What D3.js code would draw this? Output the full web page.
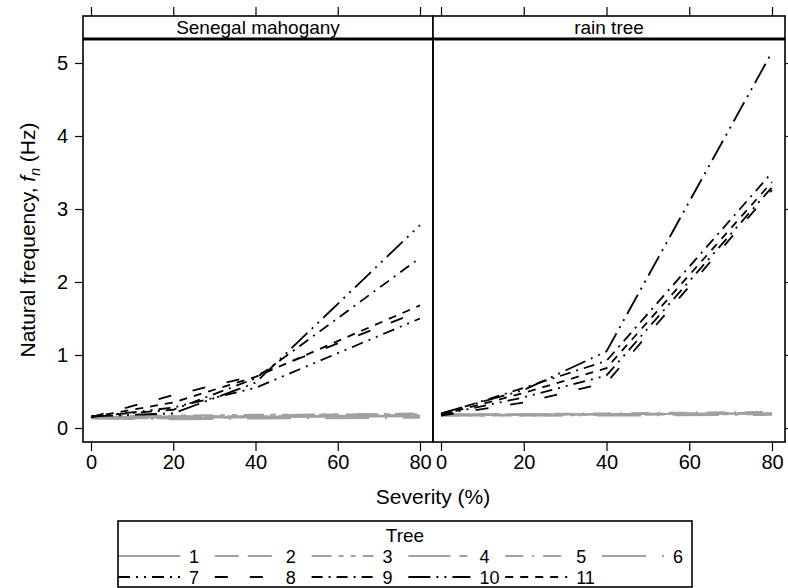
<!DOCTYPE html>
<html>
<head>
<meta charset="utf-8">
<script src="https://cdn.jsdelivr.net/npm/d3@7"></script>
<style>
  body { margin: 0; background: #fff; }
  text { font-family: "Liberation Sans", Arial, sans-serif; fill: #000; }
</style>
</head>
<body>
<div id="chart"></div>
<script>
// severity levels on the x axis
const severity = [0, 20, 40, 80]
const treeNames = ["1", "2", "3", "4", "5", "6", "7", "8", "9", "10", "11"]
const panelNames = ["Senegal mahogany", "rain tree"]
const xTicks = [0, 20, 40, 60, 80]
const yTicks = [0, 1, 2, 3, 4, 5]

// natural frequency (Hz) per tree, Senegal mahogany
const mahoganyTree1 = [0.15, 0.14, 0.15, 0.16]
const mahoganyTree2 = [0.14, 0.13, 0.15, 0.18]
const mahoganyTree3 = [0.16, 0.17, 0.18, 0.19]
const mahoganyTree4 = [0.15, 0.16, 0.16, 0.17]
const mahoganyTree5 = [0.16, 0.15, 0.17, 0.20]
const mahoganyTree6 = [0.13, 0.12, 0.13, 0.14]
const mahoganyTree7 = [0.15, 0.28, 0.55, 1.50]
const mahoganyTree8 = [0.15, 0.45, 0.72, 1.60]
const mahoganyTree9 = [0.16, 0.25, 0.68, 2.33]
const mahoganyTree10 = [0.16, 0.20, 0.62, 2.78]
const mahoganyTree11 = [0.15, 0.35, 0.70, 1.68]

// natural frequency (Hz) per tree, rain tree
const rainTree1 = [0.18, 0.18, 0.19, 0.20]
const rainTree2 = [0.19, 0.18, 0.19, 0.21]
const rainTree3 = [0.17, 0.17, 0.18, 0.19]
const rainTree4 = [0.18, 0.19, 0.19, 0.20]
const rainTree5 = [0.19, 0.19, 0.20, 0.22]
const rainTree6 = [0.17, 0.17, 0.17, 0.18]
const rainTree7 = [0.18, 0.42, 0.72, 3.30]
const rainTree8 = [0.17, 0.35, 0.62, 3.26]
const rainTree9 = [0.19, 0.55, 0.92, 3.50]
const rainTree10 = [0.20, 0.52, 1.05, 5.15]
const rainTree11 = [0.18, 0.48, 0.82, 3.37]

const mahoganySeries = [mahoganyTree1, mahoganyTree2, mahoganyTree3, mahoganyTree4, mahoganyTree5, mahoganyTree6,
  mahoganyTree7, mahoganyTree8, mahoganyTree9, mahoganyTree10, mahoganyTree11]
const rainSeries = [rainTree1, rainTree2, rainTree3, rainTree4, rainTree5, rainTree6,
  rainTree7, rainTree8, rainTree9, rainTree10, rainTree11]

// line styles per tree (grey for 1-6, black for 7-11)
const treeColor = i => i < 6 ? "#a0a0a0" : "#000"
const treeWidth = i => i < 6 ? 2 : 1.8
const treeDash = ["", "24,9", "20,7,5,7,5,7", "42,9,8,9", "18,9,2,9", "44,16,2,16",
  "12,6,2,6,2,6", "13,22", "11,6,2,6", "22,6,2,6,2,6", "8,7"]

const width = 788, height = 588
const panelTop = 16, stripBottom = 39, panelBottom = 442
const panels = [
  { name: panelNames[0], x0: 83, x1: 433, data: mahoganySeries },
  { name: panelNames[1], x0: 433, x1: 785, data: rainSeries }
]

const svg = d3.select("#chart")
  .append("svg")
    .attr("width", width)
    .attr("height", height)

const y = d3.scaleLinear().domain([0, 5]).range([428, 63])

panels.forEach(function(p, pi) {
  const x = d3.scaleLinear().domain([0, 80]).range([p.x0 + 8, p.x1 - 13])
  const g = svg.append("g")

  // lines
  const line = d3.line()
    .x((d, i) => x(severity[i]))
    .y(d => y(d))
  p.data.forEach(function(series, i) {
    g.append("path")
      .datum(series)
      .attr("fill", "none")
      .attr("stroke", treeColor(i))
      .attr("stroke-width", treeWidth(i))
      .attr("stroke-dasharray", treeDash[i])
      .attr("d", line)
  })

  // strip
  g.append("rect")
    .attr("x", p.x0).attr("y", panelTop)
    .attr("width", p.x1 - p.x0).attr("height", stripBottom - panelTop)
    .attr("fill", "#fff")
  g.append("text")
    .attr("x", (p.x0 + p.x1) / 2).attr("y", 34)
    .attr("text-anchor", "middle")
    .style("font-size", "19px")
    .text(p.name)
  g.append("line")
    .attr("x1", p.x0).attr("x2", p.x1)
    .attr("y1", stripBottom).attr("y2", stripBottom)
    .attr("stroke", "#000").attr("stroke-width", 3)

  // panel border
  g.append("rect")
    .attr("x", p.x0).attr("y", panelTop)
    .attr("width", p.x1 - p.x0).attr("height", panelBottom - panelTop)
    .attr("fill", "none").attr("stroke", "#000").attr("stroke-width", 1.6)

  // bottom axis
  const bottom = g.append("g")
    .attr("transform", `translate(0,${panelBottom})`)
    .call(d3.axisBottom(x).tickValues(xTicks).tickSize(9).tickPadding(4))
  bottom.select(".domain").remove()
  bottom.selectAll("line").attr("stroke-width", 1.2)
  bottom.selectAll("text").style("font-size", "20px")
    .attr("font-family", "Liberation Sans, Arial, sans-serif")

  // top ticks only
  const top = g.append("g")
    .attr("transform", `translate(0,${panelTop})`)
    .call(d3.axisTop(x).tickValues(xTicks).tickSize(9).tickFormat(""))
  top.select(".domain").remove()
  top.selectAll("line").attr("stroke-width", 1.2)

  if (pi === 0) {
    const left = g.append("g")
      .attr("transform", `translate(${p.x0},0)`)
      .call(d3.axisLeft(y).tickValues(yTicks).tickSize(8).tickPadding(7).tickFormat(d3.format("d")))
    left.select(".domain").remove()
    left.selectAll("line").attr("stroke-width", 1.2)
    left.selectAll("text").style("font-size", "20px")
      .attr("font-family", "Liberation Sans, Arial, sans-serif")
  } else {
    const right = g.append("g")
      .attr("transform", `translate(${p.x1},0)`)
      .call(d3.axisRight(y).tickValues(yTicks).tickSize(8).tickFormat(""))
    right.select(".domain").remove()
    right.selectAll("line").attr("stroke-width", 1.2)
  }
})

// axis titles
svg.append("text")
  .attr("x", 433).attr("y", 504)
  .attr("text-anchor", "middle")
  .style("font-size", "21px")
  .text("Severity (%)")

const yTitle = svg.append("text")
  .attr("transform", "translate(35,240) rotate(-90)")
  .attr("text-anchor", "middle")
  .style("font-size", "21px")
yTitle.append("tspan").text("Natural frequency, ")
yTitle.append("tspan").style("font-style", "italic").text("f")
yTitle.append("tspan").style("font-style", "italic").style("font-size", "14px").attr("dy", 5).text("n")
yTitle.append("tspan").attr("dy", -5).text(" (Hz)")

// legend
const legend = svg.append("g")
svg.append("rect")
  .attr("x", 118).attr("y", 521)
  .attr("width", 574).attr("height", 66)
  .attr("fill", "none").attr("stroke", "#000").attr("stroke-width", 1.6)
legend.append("text")
  .attr("x", 405).attr("y", 542)
  .attr("text-anchor", "middle")
  .style("font-size", "19px")
  .text("Tree")

const colX = d3.scaleLinear().domain([0, 5]).range([190, 674])
treeNames.forEach(function(name, i) {
  const row = i < 6 ? 0 : 1
  const col = i < 6 ? i : i - 6
  const ly = row === 0 ? 556 : 577
  const lx = colX(col)
  legend.append("line")
    .attr("x1", lx - 72).attr("x2", lx - 10)
    .attr("y1", ly).attr("y2", ly)
    .attr("stroke", treeColor(i))
    .attr("stroke-width", treeWidth(i))
    .attr("stroke-dasharray", treeDash[i])
  legend.append("text")
    .attr("x", lx - 1).attr("y", ly + 7)
    .style("font-size", "18px")
    .text(name)
})
</script>
</body>
</html>
